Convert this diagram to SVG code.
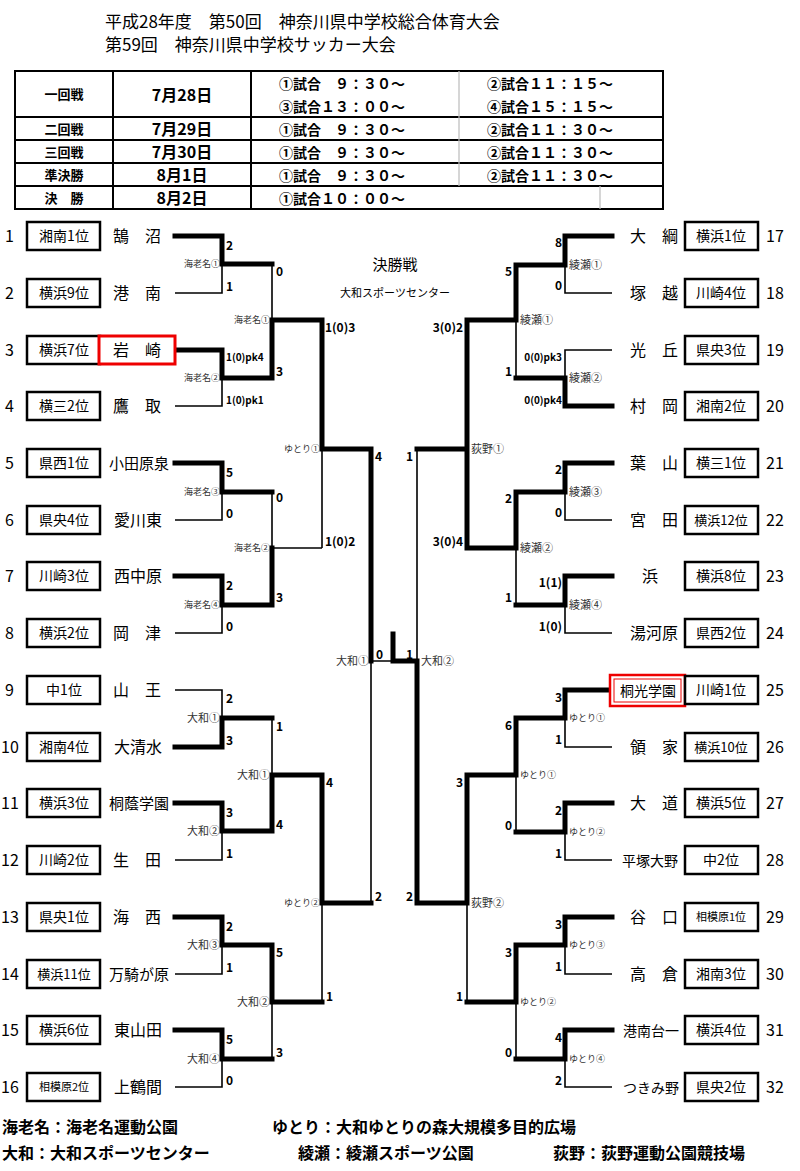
<svg xmlns="http://www.w3.org/2000/svg" width="800" height="1171" viewBox="0 0 800 1171">
<style>
text{font-family:"Noto Sans CJK JP","Liberation Sans",sans-serif;fill:#000}
.thk{stroke:#000;stroke-width:5;fill:none;stroke-linecap:square;stroke-linejoin:miter}
.thn{stroke:#000;stroke-width:1.6;fill:none}
.box{fill:#fff;stroke:#000;stroke-width:2.5}
.num{font-family:"Liberation Sans",sans-serif;font-size:16px}
.lab{font-size:14px}
.nm{font-size:16px}
.sc{font-family:"Liberation Sans",sans-serif;font-size:12px;font-weight:bold}
.v{font-size:9px;fill:#333}
.vb{font-size:11px;fill:#333}
.tb{font-weight:bold;font-size:14px}
.grid{stroke:#000;stroke-width:2;fill:none}
</style>
<rect width="800" height="1171" fill="#fff"/>
<g id="title">
<text x="105" y="28" font-size="17">平成28年度　第50回　神奈川県中学校総合体育大会</text>
<text x="105" y="51" font-size="17">第59回　神奈川県中学校サッカー大会</text>
</g>
<g id="schedule">
<rect x="15" y="71" width="648" height="138" class="grid" stroke-width="2.5"/>
<path class="grid" d="M15 117H663M15 140H663M15 163H663M15 186H663M113 71V209M251 71V209"/>
<path d="M459 71V186M600 186V209" stroke="#bbb" stroke-width="1.2"/>
<g class="tb" text-anchor="middle">
<text x="64" y="99" font-size="13">一回戦</text>
<text x="64" y="134" font-size="13">二回戦</text>
<text x="64" y="157" font-size="13">三回戦</text>
<text x="64" y="180" font-size="13">準決勝</text>
<text x="64" y="203" font-size="13">決　勝</text>
<text x="182" y="101" font-size="16">7月28日</text>
<text x="182" y="135" font-size="16">7月29日</text>
<text x="182" y="158" font-size="16">7月30日</text>
<text x="182" y="181" font-size="16">8月1日</text>
<text x="182" y="204" font-size="16">8月2日</text>
</g>
<g class="tb" font-size="15">
<text x="279" y="89">①試合　９：３０～</text>
<text x="279" y="112">③試合１３：００～</text>
<text x="279" y="135">①試合　９：３０～</text>
<text x="279" y="158">①試合　９：３０～</text>
<text x="279" y="181">①試合　９：３０～</text>
<text x="279" y="204">①試合１０：００～</text>
<text x="487" y="89">②試合１１：１５～</text>
<text x="487" y="112">④試合１５：１５～</text>
<text x="487" y="135">②試合１１：３０～</text>
<text x="487" y="158">②試合１１：３０～</text>
<text x="487" y="181">②試合１１：３０～</text>
</g>
</g>
<g id="final-label" text-anchor="middle">
<text x="395" y="270" font-size="15">決勝戦</text>
<text x="395" y="297" font-size="11">大和スポーツセンター</text>
</g>
<g id="connectors">
<path class="thn" d="M175 293H222V264M175 406H222V378M175 520H222V492M175 633H222V605M175 690H222V718M175 860H222V831M175 974H222V945M175 1087H222V1059
M272 264V320M272 492V548H322M272 718V775M272 1059V1002M322 548V449M322 1002V903M371 903V661H393
M417 449V661M467 1002V903
M516 378V320M516 605V548M516 832V775M516 1059V1002
M612 293H565V265M612 350H565V378M612 520H565V492M612 633H565V605M612 747H565V718M612 860H565V832M612 974H565V945M612 1087H565V1059"/>
<path class="thk" d="M175 236H222V264H272M175 350H222V378H272M175 463H222V492H272M175 576H222V605H272M175 747H222V718H272M175 803H222V831H272M175 917H222V945H272M175 1030H222V1059H272
M272 378V320H322M272 605V548M272 831V775H322M272 945V1002H322
M322 320V449H371M322 775V903H371M371 449V661M393 634V661H417
M417 903V661M467 320V548M467 449H417M467 775V903H417
M516 265V320H467M516 492V548H467M516 718V775H467M516 945V1002H467
M612 236H565V265H516M612 406H565V378H516M612 463H565V492H516M612 576H565V605H516M612 690H565V718H516M612 803H565V832H516M612 917H565V945H516M612 1030H565V1059H516"/>
</g>
<g id="scores" class="sc">
<text x="226" y="250">2</text><text x="226" y="291">1</text>
<text x="226" y="361" font-size="10">1(0)pk4</text><text x="226" y="404" font-size="10">1(0)pk1</text>
<text x="226" y="477">5</text><text x="226" y="518">0</text>
<text x="226" y="590">2</text><text x="226" y="631">0</text>
<text x="226" y="703">2</text><text x="226" y="745">3</text>
<text x="226" y="817">3</text><text x="226" y="858">1</text>
<text x="226" y="931">2</text><text x="226" y="972">1</text>
<text x="226" y="1044">5</text><text x="226" y="1085">0</text>
<text x="276" y="276">0</text><text x="276" y="376">3</text>
<text x="276" y="502">0</text><text x="276" y="602">3</text>
<text x="276" y="731">1</text><text x="276" y="829">4</text>
<text x="276" y="957">5</text><text x="276" y="1057">3</text>
<text x="325" y="332">1(0)3</text><text x="325" y="546">1(0)2</text>
<text x="326" y="787">4</text><text x="326" y="1001">1</text>
<text x="375" y="461">4</text><text x="375" y="901">2</text>
<text x="376" y="659">0</text>
<g text-anchor="end">
<text x="413" y="659">1</text>
<text x="562" y="247">8</text><text x="562" y="290">0</text>
<text x="562" y="361" font-size="10">0(0)pk3</text><text x="562" y="404" font-size="10">0(0)pk4</text>
<text x="562" y="474">2</text><text x="562" y="517">0</text>
<text x="562" y="587">1(1)</text><text x="562" y="631">1(0)</text>
<text x="562" y="702">3</text><text x="562" y="744">1</text>
<text x="562" y="815">2</text><text x="562" y="858">1</text>
<text x="562" y="929">3</text><text x="562" y="971">1</text>
<text x="562" y="1042">4</text><text x="562" y="1085">2</text>
<text x="512" y="276">5</text><text x="512" y="376">1</text>
<text x="512" y="503">2</text><text x="512" y="602">1</text>
<text x="512" y="730">6</text><text x="512" y="830">0</text>
<text x="512" y="957">3</text><text x="512" y="1057">0</text>
<text x="463" y="332">3(0)2</text><text x="463" y="546">3(0)4</text>
<text x="463" y="787">3</text><text x="463" y="1001">1</text>
<text x="413" y="461">1</text><text x="413" y="901">2</text>
</g>
</g>
<g id="venues">
<g text-anchor="end">
<text class="v" x="220" y="267">海老名①</text><text class="v" x="220" y="381">海老名②</text>
<text class="v" x="220" y="495">海老名③</text><text class="v" x="220" y="608">海老名④</text>
<text class="v" x="270" y="323">海老名①</text><text class="v" x="270" y="551">海老名②</text>
<text class="v" x="320" y="452">ゆとり①</text><text class="v" x="320" y="906">ゆとり②</text>
<text class="vb" x="220" y="722">大和①</text><text class="vb" x="220" y="835">大和②</text>
<text class="vb" x="220" y="949">大和③</text><text class="vb" x="220" y="1063">大和④</text>
<text class="vb" x="270" y="779">大和①</text><text class="vb" x="270" y="1006">大和②</text>
<text class="vb" x="369" y="665">大和①</text>
</g>
<text class="vb" x="421" y="665">大和②</text>
<text class="vb" x="569" y="269">綾瀬①</text><text class="vb" x="569" y="382">綾瀬②</text>
<text class="vb" x="569" y="496">綾瀬③</text><text class="vb" x="569" y="609">綾瀬④</text>
<text class="vb" x="520" y="324">綾瀬①</text><text class="vb" x="520" y="552">綾瀬②</text>
<text class="vb" x="471" y="453">荻野①</text><text class="vb" x="471" y="907">荻野②</text>
<text class="v" x="569" y="721">ゆとり①</text><text class="v" x="569" y="835">ゆとり②</text>
<text class="v" x="569" y="948">ゆとり③</text><text class="v" x="569" y="1062">ゆとり④</text>
<text class="v" x="520" y="778">ゆとり①</text><text class="v" x="520" y="1005">ゆとり②</text>
</g>
<g id="teams-left">
<g class="num"><text x="5" y="242">1</text><text x="5" y="299">2</text><text x="5" y="356">3</text><text x="5" y="412">4</text><text x="5" y="469">5</text><text x="5" y="526">6</text><text x="5" y="582">7</text><text x="5" y="639">8</text><text x="5" y="696">9</text><text x="1" y="753">10</text><text x="1" y="809">11</text><text x="1" y="866">12</text><text x="1" y="923">13</text><text x="1" y="980">14</text><text x="1" y="1036">15</text><text x="1" y="1093">16</text></g>
<g class="box"><rect x="27" y="222" width="73" height="28"/><rect x="27" y="279" width="73" height="28"/><rect x="27" y="336" width="73" height="28"/><rect x="27" y="392" width="73" height="28"/><rect x="27" y="449" width="73" height="28"/><rect x="27" y="506" width="73" height="28"/><rect x="27" y="562" width="73" height="28"/><rect x="27" y="619" width="73" height="28"/><rect x="27" y="676" width="73" height="28"/><rect x="27" y="733" width="73" height="28"/><rect x="27" y="789" width="73" height="28"/><rect x="27" y="846" width="73" height="28"/><rect x="27" y="903" width="73" height="28"/><rect x="27" y="960" width="73" height="28"/><rect x="27" y="1016" width="73" height="28"/><rect x="27" y="1073" width="73" height="28"/></g>
<rect x="99" y="336" width="76" height="28" fill="#fff" stroke="#e00" stroke-width="3"/>
<g class="lab" text-anchor="middle"><text x="64" y="241">湘南1位</text><text x="64" y="298">横浜9位</text><text x="64" y="355">横浜7位</text><text x="64" y="411">横三2位</text><text x="64" y="468">県西1位</text><text x="64" y="525">県央4位</text><text x="64" y="581">川崎3位</text><text x="64" y="638">横浜2位</text><text x="64" y="695">中1位</text><text x="64" y="752">湘南4位</text><text x="64" y="808">横浜3位</text><text x="64" y="865">川崎2位</text><text x="64" y="922">県央1位</text><text x="64" y="979" font-size="13">横浜11位</text><text x="64" y="1035">横浜6位</text><text x="64" y="1091" font-size="11">相模原2位</text></g>
<g class="nm" text-anchor="middle"><text x="137" y="242">鵠　沼</text><text x="137" y="299">港　南</text><text x="137" y="356">岩　崎</text><text x="137" y="412">鷹　取</text><text x="139" y="469" font-size="15">小田原泉</text><text x="138" y="526">愛川東</text><text x="138" y="582">西中原</text><text x="137" y="639">岡　津</text><text x="137" y="696">山　王</text><text x="138" y="753">大清水</text><text x="139" y="809" font-size="15">桐蔭学園</text><text x="137" y="866">生　田</text><text x="137" y="923">海　西</text><text x="139" y="980" font-size="15">万騎が原</text><text x="138" y="1036">東山田</text><text x="138" y="1093">上鶴間</text></g>
</g>
<g id="teams-right">
<g class="num"><text x="766" y="242">17</text><text x="766" y="299">18</text><text x="766" y="356">19</text><text x="766" y="412">20</text><text x="766" y="469">21</text><text x="766" y="526">22</text><text x="766" y="582">23</text><text x="766" y="639">24</text><text x="766" y="696">25</text><text x="766" y="753">26</text><text x="766" y="809">27</text><text x="766" y="866">28</text><text x="766" y="923">29</text><text x="766" y="980">30</text><text x="766" y="1036">31</text><text x="766" y="1093">32</text></g>
<rect x="610" y="675" width="75" height="31" fill="#fff" stroke="#e00" stroke-width="2.5"/>
<rect x="614" y="679" width="67" height="23" fill="none" stroke="#e00" stroke-width="1"/>
<g class="box"><rect x="685" y="222" width="73" height="28"/><rect x="685" y="279" width="73" height="28"/><rect x="685" y="336" width="73" height="28"/><rect x="685" y="392" width="73" height="28"/><rect x="685" y="449" width="73" height="28"/><rect x="685" y="506" width="73" height="28"/><rect x="685" y="562" width="73" height="28"/><rect x="685" y="619" width="73" height="28"/><rect x="685" y="676" width="73" height="28"/><rect x="685" y="733" width="73" height="28"/><rect x="685" y="789" width="73" height="28"/><rect x="685" y="846" width="73" height="28"/><rect x="685" y="903" width="73" height="28"/><rect x="685" y="960" width="73" height="28"/><rect x="685" y="1016" width="73" height="28"/><rect x="685" y="1073" width="73" height="28"/></g>
<g class="lab" text-anchor="middle"><text x="721" y="241">横浜1位</text><text x="721" y="298">川崎4位</text><text x="721" y="355">県央3位</text><text x="721" y="411">湘南2位</text><text x="721" y="468">横三1位</text><text x="721" y="525" font-size="13">横浜12位</text><text x="721" y="581">横浜8位</text><text x="721" y="638">県西2位</text><text x="721" y="695">川崎1位</text><text x="721" y="752" font-size="13">横浜10位</text><text x="721" y="808">横浜5位</text><text x="721" y="865">中2位</text><text x="721" y="921" font-size="11">相模原1位</text><text x="721" y="979">湘南3位</text><text x="721" y="1035">横浜4位</text><text x="721" y="1092">県央2位</text></g>
<g class="nm" text-anchor="middle"><text x="654" y="242">大　綱</text><text x="654" y="299">塚　越</text><text x="654" y="356">光　丘</text><text x="654" y="412">村　岡</text><text x="654" y="469">葉　山</text><text x="654" y="526">宮　田</text><text x="650" y="582">浜</text><text x="654" y="639">湯河原</text><text x="648" y="696" font-size="14">桐光学園</text><text x="654" y="753">領　家</text><text x="654" y="809">大　道</text><text x="650" y="866" font-size="14">平塚大野</text><text x="654" y="923">谷　口</text><text x="654" y="980">高　倉</text><text x="651" y="1036" font-size="14">港南台一</text><text x="651" y="1093" font-size="14">つきみ野</text></g>
</g>
<g id="legend" font-weight="bold" font-size="16">
<text x="2" y="1133">海老名：海老名運動公園</text>
<text x="272" y="1133">ゆとり：大和ゆとりの森大規模多目的広場</text>
<text x="2" y="1159">大和：大和スポーツセンター</text>
<text x="298" y="1159">綾瀬：綾瀬スポーツ公園</text>
<text x="553" y="1159">荻野：荻野運動公園競技場</text>
</g>
</svg>
